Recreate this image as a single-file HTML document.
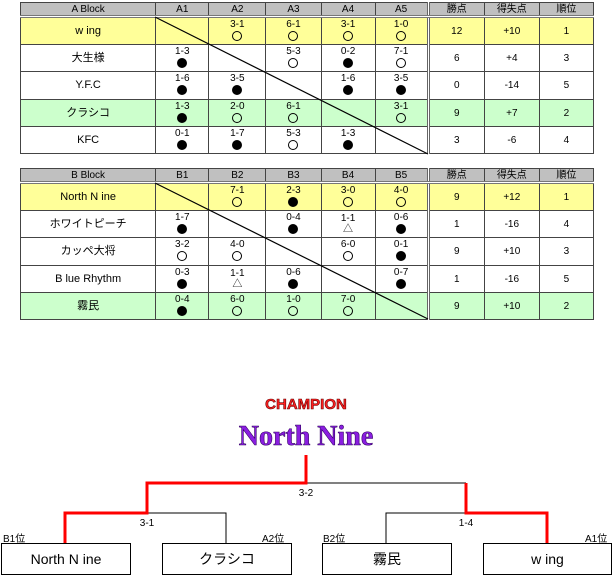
<!DOCTYPE html>
<html><head><meta charset="utf-8"><style>
body{margin:0;width:613px;height:576px;background:#fff;position:relative;overflow:hidden;font-family:"Liberation Sans","Noto Sans CJK JP",sans-serif;}
table{position:absolute;left:20px;border-collapse:collapse;table-layout:fixed;font-size:10px;color:#000}
td{border:1px solid #444;text-align:center;vertical-align:middle;padding:0;line-height:11px;overflow:hidden}
tr.h td{background:#c0c0c0;height:12px;border-bottom:3px double #777}
td.g{border-left:3px double #666}
tr.y td{background:#ffff99}
tr.gr td{background:#ccffcc}
td.n{font-size:11px}
.c{display:inline-block;width:8px;height:8px;border:1px solid #000;border-radius:50%;margin-top:1px}
.f{background:#000}
.t{font-size:10px;line-height:11px}
svg{position:absolute;left:0;top:0}
.lb{position:absolute;font-size:10px}
.box{position:absolute;top:543px;height:32px;border:1px solid #000;box-sizing:border-box;text-align:center;line-height:30px;font-size:14px;background:#fff}
</style></head><body>
<table style="top:2px;width:574px">
<colgroup><col style="width:135px"><col style="width:53px"><col style="width:57px"><col style="width:55px"><col style="width:54px"><col style="width:53px"><col style="width:56px"><col style="width:55px"><col style="width:54px"></colgroup>
<tr class="h"><td>A Block</td><td>A1</td><td>A2</td><td>A3</td><td>A4</td><td>A5</td><td class="g">勝点</td><td>得失点</td><td>順位</td></tr>
<tr class="y" style="height:28px"><td class="n">w ing</td><td></td><td>3-1<br><span class="c"></span></td><td>6-1<br><span class="c"></span></td><td>3-1<br><span class="c"></span></td><td>1-0<br><span class="c"></span></td><td class="g">12</td><td>+10</td><td>1</td></tr>
<tr style="height:27px"><td class="n">大生様</td><td>1-3<br><span class="c f"></span></td><td></td><td>5-3<br><span class="c"></span></td><td>0-2<br><span class="c f"></span></td><td>7-1<br><span class="c"></span></td><td class="g">6</td><td>+4</td><td>3</td></tr>
<tr style="height:28px"><td class="n">Y.F.C</td><td>1-6<br><span class="c f"></span></td><td>3-5<br><span class="c f"></span></td><td></td><td>1-6<br><span class="c f"></span></td><td>3-5<br><span class="c f"></span></td><td class="g">0</td><td>-14</td><td>5</td></tr>
<tr class="gr" style="height:27px"><td class="n">クラシコ</td><td>1-3<br><span class="c f"></span></td><td>2-0<br><span class="c"></span></td><td>6-1<br><span class="c"></span></td><td></td><td>3-1<br><span class="c"></span></td><td class="g">9</td><td>+7</td><td>2</td></tr>
<tr style="height:27px"><td class="n">KFC</td><td>0-1<br><span class="c f"></span></td><td>1-7<br><span class="c f"></span></td><td>5-3<br><span class="c"></span></td><td>1-3<br><span class="c f"></span></td><td></td><td class="g">3</td><td>-6</td><td>4</td></tr>
</table>
<table style="top:168px;width:574px">
<colgroup><col style="width:135px"><col style="width:53px"><col style="width:57px"><col style="width:55px"><col style="width:54px"><col style="width:53px"><col style="width:56px"><col style="width:55px"><col style="width:54px"></colgroup>
<tr class="h"><td>B Block</td><td>B1</td><td>B2</td><td>B3</td><td>B4</td><td>B5</td><td class="g">勝点</td><td>得失点</td><td>順位</td></tr>
<tr class="y" style="height:28px"><td class="n">North N ine</td><td></td><td>7-1<br><span class="c"></span></td><td>2-3<br><span class="c f"></span></td><td>3-0<br><span class="c"></span></td><td>4-0<br><span class="c"></span></td><td class="g">9</td><td>+12</td><td>1</td></tr>
<tr style="height:27px"><td class="n">ホワイトピーチ</td><td>1-7<br><span class="c f"></span></td><td></td><td>0-4<br><span class="c f"></span></td><td>1-1<br><span class="t">△</span></td><td>0-6<br><span class="c f"></span></td><td class="g">1</td><td>-16</td><td>4</td></tr>
<tr style="height:28px"><td class="n">カッペ大将</td><td>3-2<br><span class="c"></span></td><td>4-0<br><span class="c"></span></td><td></td><td>6-0<br><span class="c"></span></td><td>0-1<br><span class="c f"></span></td><td class="g">9</td><td>+10</td><td>3</td></tr>
<tr style="height:27px"><td class="n">B lue Rhythm</td><td>0-3<br><span class="c f"></span></td><td>1-1<br><span class="t">△</span></td><td>0-6<br><span class="c f"></span></td><td></td><td>0-7<br><span class="c f"></span></td><td class="g">1</td><td>-16</td><td>5</td></tr>
<tr class="gr" style="height:27px"><td class="n">霧民</td><td>0-4<br><span class="c f"></span></td><td>6-0<br><span class="c"></span></td><td>1-0<br><span class="c"></span></td><td>7-0<br><span class="c"></span></td><td></td><td class="g">9</td><td>+10</td><td>2</td></tr>
</table>
<svg width="613" height="576">
<line x1="155" y1="17" x2="428" y2="154" stroke="#000" stroke-width="1.2"/>
<line x1="155" y1="183" x2="428" y2="319" stroke="#000" stroke-width="1.2"/>
<text x="306" y="409" text-anchor="middle" font-family="Liberation Sans" font-weight="bold" font-size="15" fill="#ff2020" stroke="#600" stroke-width="0.6">CHAMPION</text>
<text x="306" y="445" text-anchor="middle" font-family="Liberation Serif" font-weight="bold" font-size="28" fill="#8a1ee0" stroke="#300060" stroke-width="0.6">North Nine</text>
<g fill="none" stroke="#000" stroke-width="1">
<polyline points="306,483 466,483"/>
<polyline points="147,513 226,513 226,543"/>
<polyline points="386,543 386,513 466,513"/>
</g>
<g fill="none" stroke="#f00" stroke-width="3">
<polyline points="306,455 306,483 147,483 147,513 65,513 65,543"/>
<polyline points="466,483 466,513 547,513 547,543"/>
</g>
<g font-family="Liberation Sans" font-size="10" text-anchor="middle">
<text x="306" y="496">3-2</text><text x="147" y="526">3-1</text><text x="466" y="526">1-4</text>
</g>
</svg>
<div class="lb" style="left:3px;top:530px">B1位</div>
<div class="lb" style="left:262px;top:530px">A2位</div>
<div class="lb" style="left:323px;top:530px">B2位</div>
<div class="lb" style="left:585px;top:530px">A1位</div>
<div class="box" style="left:1px;width:130px">North N ine</div>
<div class="box" style="left:162px;width:130px">クラシコ</div>
<div class="box" style="left:322px;width:130px">霧民</div>
<div class="box" style="left:483px;width:129px">w ing</div>
</body></html>
